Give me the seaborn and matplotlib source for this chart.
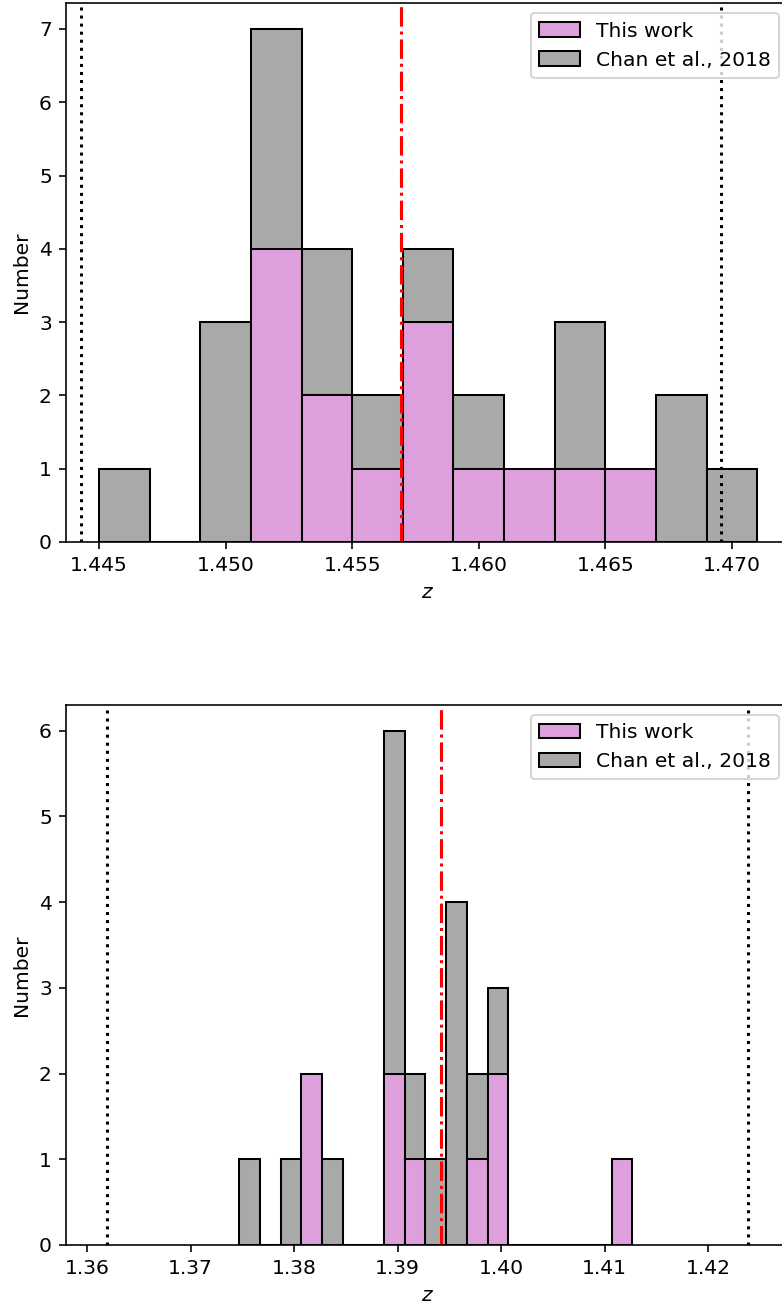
import numpy as np
import pandas as pd
import matplotlib
matplotlib.use("Agg")
import matplotlib.pyplot as plt
from matplotlib.patches import Patch
import seaborn as sns

# ---- Upper panel: redshift histograms ----
top_bin_left = [1.445, 1.447, 1.449, 1.451, 1.453, 1.455, 1.457,
                1.459, 1.461, 1.463, 1.465, 1.467, 1.469]
top_this_work = [0, 0, 0, 4, 2, 1, 3, 1, 1, 1, 1, 0, 0]
top_chan2018 = [1, 0, 3, 7, 4, 2, 4, 2, 0, 3, 0, 2, 1]
top_z_mean = 1.45694
top_z_limits = [1.44431, 1.46956]

# ---- Lower panel ----
bot_bin_left = [1.3747, 1.3767, 1.3787, 1.3807, 1.3827, 1.3847, 1.3867,
                1.3887, 1.3907, 1.3927, 1.3947, 1.3967, 1.3987, 1.4007,
                1.4027, 1.4047, 1.4067, 1.4087, 1.4107]
bot_this_work = [0, 0, 0, 2, 0, 0, 0, 2, 1, 0, 0, 1, 2, 0, 0, 0, 0, 0, 1]
bot_chan2018 = [1, 0, 1, 0, 1, 0, 0, 6, 2, 1, 4, 2, 3, 0, 0, 0, 0, 0, 0]
bot_z_mean = 1.3942
bot_z_limits = [1.36193, 1.42386]

BIN_WIDTH = 0.002
LABELS = ["This work", "Chan et al., 2018"]
PINK = "#dda0dd"
GREY = "#a9a9a9"

DPI = 146
fig = plt.figure(figsize=(782 / DPI, 1305 / DPI), dpi=DPI)
plt.rcParams["font.family"] = ["DejaVu Sans"]


def draw_panel(ax, bin_left, this_work, chan, z_mean, z_limits, xlim, ylim):
    left = np.asarray(bin_left, dtype=float)
    brange = (float(left[0]), float(left[-1] + BIN_WIDTH))
    df = pd.DataFrame({"z": left + BIN_WIDTH / 2,
                       "this_work": np.asarray(this_work, dtype=float),
                       "chan": np.asarray(chan, dtype=float)})
    # Literature sample behind, this work in front
    for col, colour in (("chan", GREY), ("this_work", PINK)):
        sns.histplot(data=df, x="z", weights=col, binwidth=BIN_WIDTH,
                     binrange=brange, color=colour, edgecolor="black",
                     linewidth=1.0, alpha=1, ax=ax)
    ax.axvline(z_mean, color="red", linestyle="-.", linewidth=1.5)
    for zl in z_limits:
        ax.axvline(zl, color="black", linestyle=":", linewidth=1.5)
    ax.set_xlim(*xlim)
    ax.set_ylim(*ylim)
    ax.set_xlabel("$z$")
    ax.set_ylabel("Number")
    handles = [Patch(facecolor=PINK, edgecolor="black", linewidth=1.0),
               Patch(facecolor=GREY, edgecolor="black", linewidth=1.0)]
    ax.legend(handles, LABELS, loc="upper right")


ax_top = fig.add_axes([0.0844, 0.5847, 0.9246, 0.4128])
draw_panel(ax_top, top_bin_left, top_this_work, top_chan2018, top_z_mean,
           top_z_limits, (1.4437, 1.47225), (0, 7.35))
ax_top.set_xticks([1.445, 1.450, 1.455, 1.460, 1.465, 1.470])

ax_bot = fig.add_axes([0.0844, 0.04598, 0.9246, 0.4138])
draw_panel(ax_bot, bot_bin_left, bot_this_work, bot_chan2018, bot_z_mean,
           bot_z_limits, (1.35797, 1.42783), (0, 6.3))
ax_bot.set_xticks([1.36, 1.37, 1.38, 1.39, 1.40, 1.41, 1.42])

fig.savefig("out.png", dpi=DPI)
